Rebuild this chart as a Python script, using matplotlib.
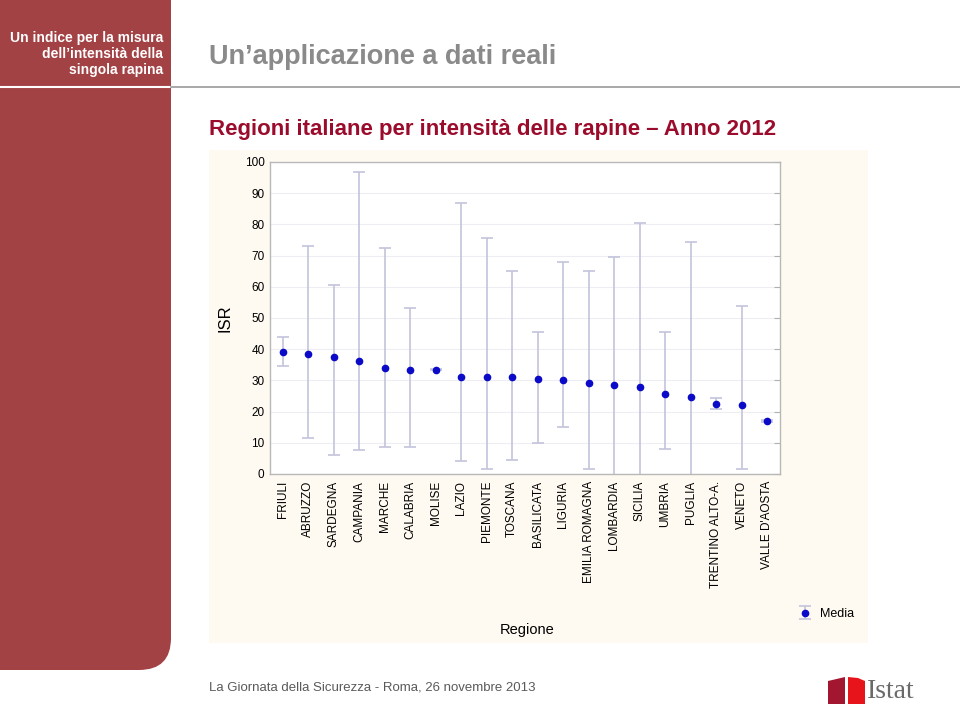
import matplotlib
matplotlib.use('Agg')
import matplotlib.pyplot as plt
from matplotlib.patches import Rectangle, FancyBboxPatch, Polygon

# Font: Arial-like
plt.rcParams['font.family'] = ['Liberation Sans', 'DejaVu Sans']

# Dati
regioni = ['FRIULI', 'ABRUZZO', 'SARDEGNA', 'CAMPANIA', 'MARCHE', 'CALABRIA',
           'MOLISE', 'LAZIO', 'PIEMONTE', 'TOSCANA', 'BASILICATA', 'LIGURIA',
           'EMILIA ROMAGNA', 'LOMBARDIA', 'SICILIA', 'UMBRIA', 'PUGLIA',
           'TRENTINO ALTO-A.', 'VENETO', "VALLE D'AOSTA"]
media = [39.1, 38.4, 37.4, 36.3, 34.0, 33.3, 33.4, 31.0, 31.0, 31.0,
         30.6, 30.2, 29.3, 28.6, 27.8, 25.5, 24.8, 22.5, 22.2, 17.0]
minimo = [34.7, 11.5, 6.0, 7.6, 8.8, 8.8, 33.2, 4.2, 1.6, 4.5,
          9.8, 15.2, 1.6, -1.0, -1.0, 8.0, -1.0, 20.7, 1.6, 16.8]
massimo = [43.8, 73.2, 60.6, 96.7, 72.5, 53.3, 33.6, 87.0, 75.5, 65.2,
           45.5, 68.1, 65.2, 69.7, 80.3, 45.6, 74.2, 24.3, 53.9, 17.2]

# Colori
W, H = 960, 718
SIDEBAR = '#a34245'
TITLE_RED = '#9b0c2c'
PANEL = '#fefaf1'
ERRBAR = '#c4c4dc'
DOT = '#0a0ac8'

fig = plt.figure(figsize=(W / 100, H / 100), dpi=100)

# Sfondo della slide, coordinate in pixel
bg = fig.add_axes([0, 0, 1, 1], zorder=0)
bg.set_xlim(0, W)
bg.set_ylim(H, 0)
bg.axis('off')

# barra laterale con angolo arrotondato in basso
bg.add_patch(Rectangle((0, 0), 171, 640, color=SIDEBAR, lw=0))
bg.add_patch(FancyBboxPatch((0, 560), 171, 110, boxstyle='round,pad=0,rounding_size=32',
                            color=SIDEBAR, lw=0))
bg.add_patch(Rectangle((0, 560), 60, 110, color=SIDEBAR, lw=0))
bg.plot([0, 171], [87, 87], color='white', lw=1.5)
bg.plot([171, W], [87, 87], color='#9a9a9a', lw=1.2)
bg.text(163, 54, 'Un indice per la misura\ndell\u2019intensità della\nsingola rapina',
        color='white', fontsize=10, fontweight='bold', ha='right', va='center',
        linespacing=1.2)

# titoli
bg.text(209, 57, 'Un\u2019applicazione a dati reali', color='#8a8a8a', fontsize=19.5,
        fontweight='bold', ha='left', va='center')
bg.text(209, 129, 'Regioni italiane per intensità delle rapine \u2013 Anno 2012',
        color=TITLE_RED, fontsize=16, fontweight='bold', ha='left', va='center')

# pannello del grafico
bg.add_patch(Rectangle((209, 150), 659, 493, color=PANEL, lw=0))
bg.text(225, 318, 'ISR', fontsize=12, rotation=90, ha='center', va='center')
bg.text(527, 630, 'Regione', fontsize=10.5, ha='center', va='center')

# piè di pagina
bg.text(209, 687, 'La Giornata della Sicurezza - Roma, 26 novembre 2013', color='#5a5a5a',
        fontsize=9.5, ha='left', va='center')

# logo Istat
bg.add_patch(Polygon([(828, 681), (845, 677), (845, 704), (828, 704)], color='#a3162f', lw=0))
bg.add_patch(Polygon([(848, 677), (858, 678), (865, 681), (865, 704), (848, 704)],
                     color='#e8141c', lw=0))
bg.text(867, 692, 'Istat', family=['Liberation Serif', 'DejaVu Serif'], color='#6a6a6a',
        fontsize=20, ha='left', va='center')

# Grafico principale
ax = fig.add_axes([270 / W, 1 - 474 / H, 510 / W, 312 / H], zorder=1)
x = list(range(len(regioni)))
err_lo = [m - lo for m, lo in zip(media, minimo)]
err_hi = [hi - m for m, hi in zip(media, massimo)]
eb = ax.errorbar(x, media, yerr=[err_lo, err_hi], fmt='o', color=DOT, ms=4.5,
                 ecolor=ERRBAR, elinewidth=1.2, capsize=4.5, capthick=1.2, label='Media')
for c in eb[1] + eb[2]:
    c.set_clip_on(True)

ax.set_xlim(-0.5, len(regioni) - 0.5)
ax.set_ylim(0, 100)
ax.set_yticks(range(0, 101, 10))
ax.set_xticks(x)
ax.set_xticklabels(regioni, rotation=90, fontsize=8.5)
ax.tick_params(axis='x', length=0, pad=5)
ax.tick_params(axis='y', left=False, right=True, direction='in', length=4,
               color='#b0b0b0', labelsize=8.5, pad=4)
ax.grid(axis='y', color='#ededf3', lw=0.8)
ax.set_axisbelow(True)
for s in ax.spines.values():
    s.set_color('#b8b8b8')
    s.set_linewidth(1.0)

# legenda
leg = ax.legend(loc='center left', bbox_to_anchor=(795 / W, 1 - 614 / H),
                bbox_transform=fig.transFigure, frameon=False, fontsize=9,
                handlelength=1.6, handletextpad=0.4, borderpad=0, borderaxespad=0)

fig.savefig('out.png', dpi=100)
